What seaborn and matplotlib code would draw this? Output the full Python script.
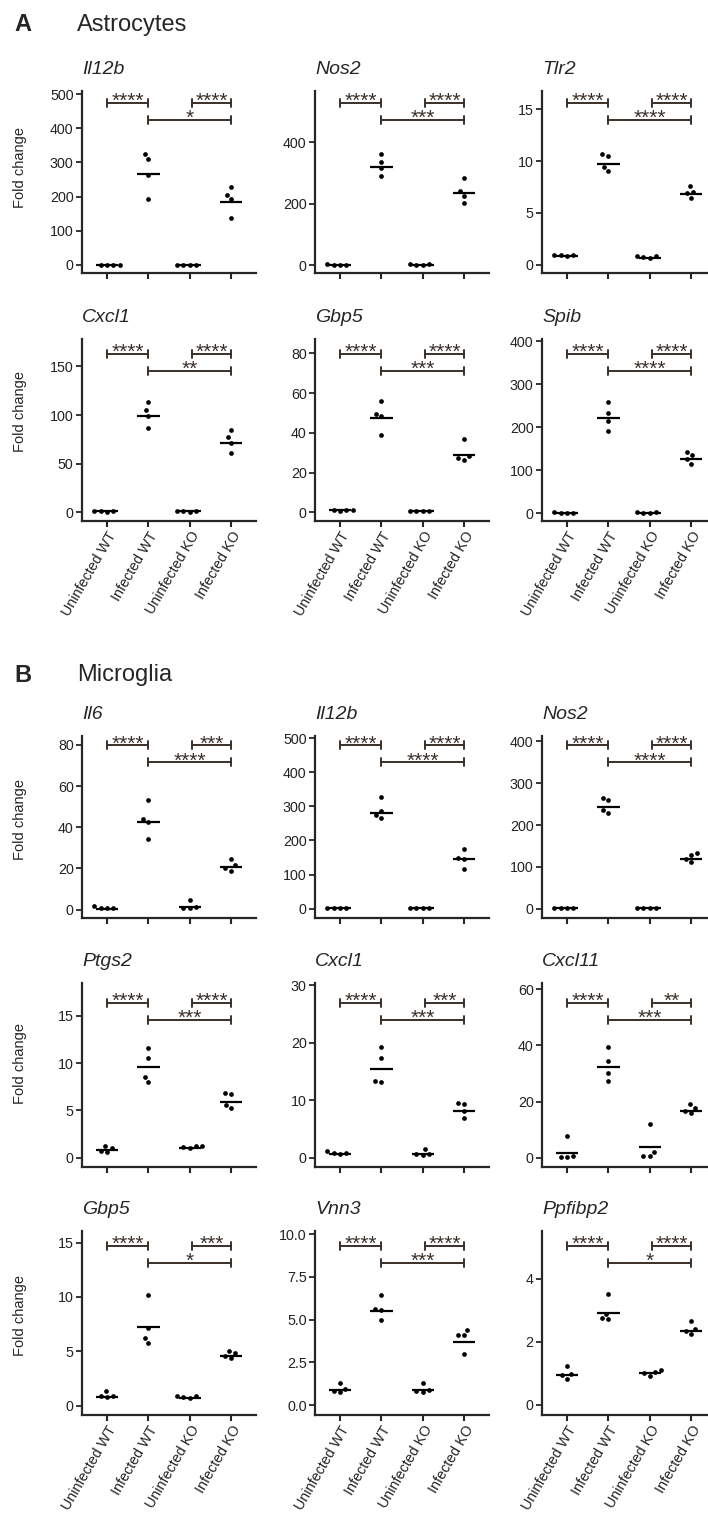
import numpy as np
import pandas as pd
import matplotlib
matplotlib.use("Agg")
import matplotlib.pyplot as plt
import seaborn as sns
from matplotlib.transforms import blended_transform_factory

# ---------------- data ----------------
groups = ["Uninfected WT", "Infected WT", "Uninfected KO", "Infected KO"]

# Section A - Astrocytes
a_il12b = [[0.8, 1.2, 1.0, 1.1], [324, 309, 263, 192], [1.0, 1.1, 0.9, 1.0], [229, 205, 192, 138]]
a_il12b_mean = [1, 267, 1, 185]
a_il12b_stars = ["****", "****", "*"]

a_nos2 = [[1.0, 1.5, 2.0, 0.8], [361, 336, 315, 290], [1.0, 3.0, 4.0, 1.5], [282, 240, 224, 203]]
a_nos2_mean = [1, 320, 1.5, 233]
a_nos2_stars = ["****", "****", "***"]

a_tlr2 = [[0.95, 0.9, 0.9, 0.85], [10.7, 10.5, 9.4, 9.0], [0.85, 0.8, 0.7, 0.65], [7.57, 7.05, 6.89, 6.47]]
a_tlr2_mean = [0.85, 9.72, 0.65, 6.85]
a_tlr2_stars = ["****", "****", "****"]

a_cxcl1 = [[1.2, 1.0, 0.9, 1.1], [113.7, 105, 99.3, 86.6], [1.0, 1.1, 0.9, 1.0], [84.6, 77, 71.5, 61]]
a_cxcl1_mean = [1, 99.5, 1, 71.5]
a_cxcl1_stars = ["****", "****", "**"]

a_gbp5 = [[1.4, 1.3, 1.0, 0.9], [55.9, 49.7, 48.5, 38.8], [0.9, 0.8, 0.8, 0.7], [36.7, 28.5, 27.6, 26.3]]
a_gbp5_mean = [1.0, 47.4, 0.5, 28.8]
a_gbp5_stars = ["****", "****", "***"]

a_spib = [[1.0, 1.2, 0.9, 1.0], [258, 232, 214, 191], [3.0, 1.0, 1.5, 0.8], [143, 135, 126, 115]]
a_spib_mean = [1, 220, 1, 126]
a_spib_stars = ["****", "****", "****"]

# Section B - Microglia
b_il6 = [[1.5, 1.0, 0.8, 0.6], [53.4, 44.2, 42.4, 34.3], [4.85, 1.3, 1.0, 0.9], [24.6, 21.4, 20.2, 18.9]]
b_il6_mean = [0.5, 42.7, 1.3, 20.8]
b_il6_stars = ["****", "***", "****"]

b_il12b = [[1.0, 1.1, 0.9, 1.0], [326, 286, 274, 267], [1.0, 1.1, 0.9, 1.0], [174, 150, 145, 117]]
b_il12b_mean = [1, 281, 1, 145]
b_il12b_stars = ["****", "****", "****"]

b_nos2 = [[1.0, 1.1, 0.9, 1.0], [266, 259, 237, 230], [1.0, 1.5, 1.0, 0.9], [134, 127.5, 119.6, 111.5]]
b_nos2_mean = [1, 243, 1, 120]
b_nos2_stars = ["****", "****", "****"]

b_ptgs2 = [[1.25, 1.05, 0.75, 0.65], [11.6, 10.5, 8.56, 8.03], [1.25, 1.2, 1.1, 1.0], [6.86, 6.7, 5.57, 5.2]]
b_ptgs2_mean = [0.8, 9.55, 1.0, 5.92]
b_ptgs2_stars = ["****", "****", "***"]

b_cxcl1 = [[1.1, 0.9, 0.8, 0.7], [19.3, 17.4, 13.3, 13.2], [1.5, 0.7, 0.6, 0.5], [9.55, 9.4, 8.17, 7.0]]
b_cxcl1_mean = [0.7, 15.5, 0.7, 8.2]
b_cxcl1_stars = ["****", "***", "***"]

b_cxcl11 = [[7.7, 0.6, 0.4, 0.3], [39.5, 34.6, 30.3, 27.3], [11.9, 2.2, 0.6, 0.5], [19.1, 17.6, 16.5, 15.8]]
b_cxcl11_mean = [1.6, 32.4, 3.9, 16.7]
b_cxcl11_stars = ["****", "**", "***"]

b_gbp5 = [[1.35, 0.9, 0.85, 0.8], [10.2, 7.1, 6.26, 5.8], [0.9, 0.85, 0.8, 0.75], [5.06, 4.8, 4.6, 4.36]]
b_gbp5_mean = [0.83, 7.2, 0.74, 4.57]
b_gbp5_stars = ["****", "***", "*"]

b_vnn3 = [[1.27, 0.95, 0.85, 0.74], [6.45, 5.6, 5.56, 4.97], [1.3, 0.9, 0.8, 0.75], [4.39, 4.07, 4.1, 2.96]]
b_vnn3_mean = [0.88, 5.5, 0.88, 3.7]
b_vnn3_stars = ["****", "****", "***"]

b_ppfibp2 = [[1.22, 0.97, 0.95, 0.82], [3.51, 2.9, 2.75, 2.72], [1.1, 1.05, 1.0, 0.92], [2.67, 2.4, 2.36, 2.25]]
b_ppfibp2_mean = [0.95, 2.91, 1.0, 2.35]
b_ppfibp2_stars = ["****", "****", "*"]

# axis ranges / ticks
t500 = [0, 100, 200, 300, 400, 500]
t400 = [0, 100, 200, 300, 400]

panels = [
    # row 0
    ("Il12b", a_il12b, a_il12b_mean, a_il12b_stars, (-23.4, 508.8), t500, None),
    ("Nos2", a_nos2, a_nos2_mean, a_nos2_stars, (-26, 566), [0, 200, 400], None),
    ("Tlr2", a_tlr2, a_tlr2_mean, a_tlr2_stars, (-0.81, 16.77), [0, 5, 10, 15], None),
    # row 1
    ("Cxcl1", a_cxcl1, a_cxcl1_mean, a_cxcl1_stars, (-8.8, 178.2), [0, 50, 100, 150], None),
    ("Gbp5", a_gbp5, a_gbp5_mean, a_gbp5_stars, (-4.3, 87.2), [0, 20, 40, 60, 80], None),
    ("Spib", a_spib, a_spib_mean, a_spib_stars, (-18.6, 404.7), t400, None),
    # row 2
    ("Il6", b_il6, b_il6_mean, b_il6_stars, (-4.1, 84.3), [0, 20, 40, 60, 80], None),
    ("Il12b", b_il12b, b_il12b_mean, b_il12b_stars, (-27, 506), t500, None),
    ("Nos2", b_nos2, b_nos2_mean, b_nos2_stars, (-22, 413), t400, None),
    # row 3
    ("Ptgs2", b_ptgs2, b_ptgs2_mean, b_ptgs2_stars, (-0.98, 18.45), [0, 5, 10, 15], None),
    ("Cxcl1", b_cxcl1, b_cxcl1_mean, b_cxcl1_stars, (-1.6, 30.4), [0, 10, 20, 30], None),
    ("Cxcl11", b_cxcl11, b_cxcl11_mean, b_cxcl11_stars, (-3.3, 62.2), [0, 20, 40, 60], None),
    # row 4
    ("Gbp5", b_gbp5, b_gbp5_mean, b_gbp5_stars, (-0.86, 16.07), [0, 5, 10, 15], None),
    ("Vnn3", b_vnn3, b_vnn3_mean, b_vnn3_stars, (-0.58, 10.18), [0, 2.5, 5, 7.5, 10],
     ["0.0", "2.5", "5.0", "7.5", "10.0"]),
    ("Ppfibp2", b_ppfibp2, b_ppfibp2_mean, b_ppfibp2_stars, (-0.32, 5.52), [0, 2, 4], None),
]

# ---------------- layout ----------------
W, H = 708, 1515
col_left = [82, 315, 542]
ax_w = 174
row_top = [91, 339, 736, 983, 1231]
row_bot = [273, 521, 918, 1167, 1415]
bracket_top = [0.936, 0.918, 0.949, 0.893, 0.920]
ylabel_y = [0.58, 0.60, 0.54, 0.565, 0.54]
label_rows = {1, 4}
bcol = "#3b3029"

sns.set_style("ticks")
plt.rcParams["font.family"] = ["Liberation Sans", "DejaVu Sans"]
plt.rcParams["axes.linewidth"] = 1.5

fig = plt.figure(figsize=(W / 100, H / 100), dpi=100)

axes = []
for k, (title, vals, means, stars, ylim, yticks, ytl) in enumerate(panels):
    r, c = divmod(k, 3)
    left = col_left[c] / W
    bottom = 1 - row_bot[r] / H
    height = (row_bot[r] - row_top[r]) / H
    ax = fig.add_axes([left, bottom, ax_w / W, height])
    axes.append(ax)

    df = pd.DataFrame({"group": np.repeat(groups, 4),
                       "value": np.concatenate([np.asarray(v, float) for v in vals])})
    sns.swarmplot(data=df, x="group", y="value", order=groups, color="black",
                  size=4.4, linewidth=0, ax=ax, zorder=3)
    for i, m in enumerate(means):
        ax.plot([i - 0.27, i + 0.27], [m, m], color="black", lw=1.6,
                solid_capstyle="butt", zorder=2)

    ax.set_xlim(-0.605, 3.6)
    ax.set_ylim(*ylim)
    ax.set_yticks(yticks)
    if ytl is not None:
        ax.set_yticklabels(ytl)
    ax.set_xticks(range(4))
    if r in label_rows:
        ax.set_xticklabels(groups, rotation=60, ha="right", va="top",
                           rotation_mode="anchor", fontsize=10.3, color="#222222")
    else:
        ax.set_xticklabels([])
    ax.set_xlabel("")
    if c == 0:
        ax.set_ylabel("Fold change", fontsize=10.5)
        ax.yaxis.set_label_coords(-0.316, ylabel_y[r])
    else:
        ax.set_ylabel("")
    sns.despine(ax=ax)
    ax.spines["left"].set_linewidth(1.6)
    ax.spines["bottom"].set_linewidth(1.6)
    ax.tick_params(axis="x", length=4.5, width=1.5, pad=1.5)
    ax.tick_params(axis="y", length=4, width=1.3, pad=2, labelsize=10.3,
                   labelcolor="#222222")
    ax.set_title(title, loc="left", fontsize=14, fontstyle="italic", pad=12)

    # significance brackets
    tr = blended_transform_factory(ax.transData, ax.transAxes)
    yt = bracket_top[r]
    yl = yt - 0.093
    cap = 0.022
    for (x0, x1, yy, s) in [(0, 1, yt, stars[0]), (2.05, 3, yt, stars[1]), (1, 3, yl, stars[2])]:
        ax.plot([x0, x1], [yy, yy], transform=tr, color=bcol, lw=1.4, clip_on=False, zorder=4)
        for xx in (x0, x1):
            ax.plot([xx, xx], [yy - cap, yy + cap], transform=tr, color=bcol, lw=1.4,
                    clip_on=False, zorder=4)
        ax.annotate(s, xy=((x0 + x1) / 2, yy), xycoords=tr, xytext=(0, -3.0),
                    textcoords="offset points", ha="center", va="baseline",
                    fontsize=15, color=bcol, annotation_clip=False)

# section headings
fig.text(14 / W, 1 - 31 / H, "A", fontsize=17, fontweight="bold", va="baseline")
fig.text(77 / W, 1 - 31 / H, "Astrocytes", fontsize=17, va="baseline")
fig.text(14 / W, 1 - 681.5 / H, "B", fontsize=17, fontweight="bold", va="baseline")
fig.text(77 / W, 1 - 681.5 / H, "Microglia", fontsize=17, va="baseline")

# compute the swarm layout with a wider collision size, then shrink the dots
fig.canvas.draw()
for ax in axes:
    for coll in ax.collections:
        if "draw" in vars(coll):
            del coll.draw
            coll.set_sizes([3.4 ** 2])

fig.savefig("out.png", dpi=100)
